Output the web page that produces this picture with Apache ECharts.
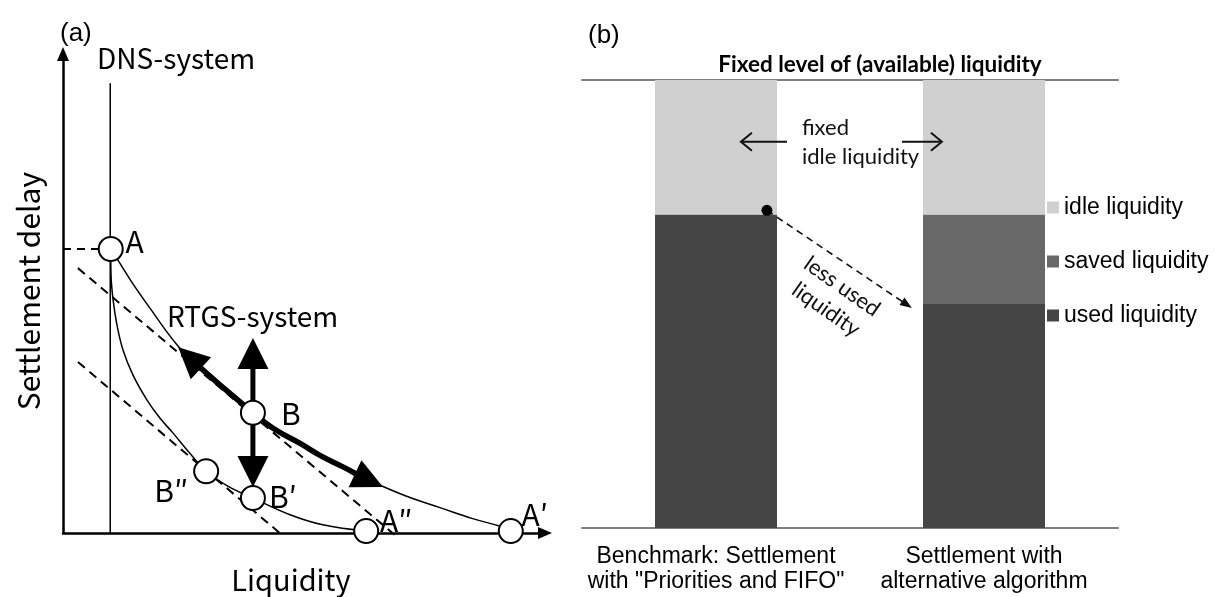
<!DOCTYPE html>
<html>
<head>
<meta charset="utf-8">
<script src="https://cdn.jsdelivr.net/npm/echarts/dist/echarts.min.js"></script>
<style>
  html, body { margin: 0; padding: 0; background: #fff; }
  #chart { width: 1215px; height: 597px; }
</style>
</head>
<body>
<div id="chart"></div>
<script>
// ---------- Panel (a): settlement delay versus liquidity ----------
const dnsLine = [[9.8, 0], [9.8, 93.9]];
const upperCurve = [[10.0, 59.3], [14.0, 52.8], [18.0, 47.0], [23.9, 39.0], [28.4, 34.7], [33.0, 30.5],
  [39.4, 25.1], [44.0, 21.6], [49.2, 18.7], [53.5, 16.1], [58.1, 13.8], [62.0, 11.7], [66.4, 9.7],
  [72.0, 7.4], [78.2, 5.3], [85.0, 3.0], [90.7, 1.4], [92.9, 0.5]];
const lowerCurve = [[9.9, 59.3], [9.96, 53.9], [10.4, 48.6], [11.2, 43.4], [12.45, 38.2], [14.5, 33.0],
  [17.4, 27.8], [20.1, 24.0], [22.8, 20.9], [26.1, 16.9], [29.7, 12.9], [34.2, 9.8], [39.4, 7.3],
  [47.1, 3.8], [53.9, 1.7], [62.9, 0.4]];
const delayLevelA = [[0, 59.3], [10.0, 59.3]];
const costLineUpper = [[3.1, 55.3], [69.3, -0.8]];
const costLineLower = [[3.1, 35.7], [45.2, -0.2]];
const pointNames = ['A', 'B', 'B′', 'B″', 'A″', 'A′'];
const pointX = [9.9, 39.4, 39.4, 29.7, 62.9, 92.9];
const pointY = [59.3, 25.1, 7.3, 12.9, 0.4, 0.4];
const arrowUp = [[39.4, 25.1], [39.4, 40.7]];
const arrowDown = [[39.4, 25.1], [39.4, 9.6]];
const arrowUpLeft = [[39.4, 25.1], [36.0, 28.0], [32.0, 31.4], [28.4, 34.6], [23.9, 38.8]];
const arrowDownRight = [[39.4, 25.1], [44.0, 21.6], [49.2, 18.7], [53.5, 16.1], [58.1, 13.8], [62.0, 11.7], [66.4, 9.6]];

// ---------- Panel (b): liquidity usage of two settlement algorithms ----------
const categories = ['Benchmark: Settlement\nwith "Priorities and FIFO"', 'Settlement with\nalternative algorithm'];
const usedLiquidity = [70, 50];
const savedLiquidity = [0, 20];
const idleLiquidity = [30, 30];
const usedLevelDot = [0.69, 70.9];
const lessUsedArrow = [[0.69, 70.9], [1.231, 49.1]];
const idleArrowLeft = [[0.765, 86.2], [0.593, 86.2]];
const idleArrowRight = [[1.194, 86.2], [1.343, 86.2]];

// ---------- styling ----------
const JP = '"Noto Sans CJK JP", "Noto Sans", sans-serif';
const ARIAL = '"Liberation Sans", Arial, sans-serif';
const CAL = 'Lato, "Open Sans", sans-serif';
const labelOffsets = { 'A': [24, -7], 'B': [38, 1], 'B′': [30, -1], 'B″': [-35, 19], 'A″': [30, -10], 'A′': [24, -16] };

// draws a polyline ending in an arrow head, positioned through the axes
function arrowSeries(paths, xi, yi, st) {
  return {
    type: 'custom', coordinateSystem: 'cartesian2d', xAxisIndex: xi, yAxisIndex: yi, z: st.z || 4,
    silent: true,
    data: paths.map(p => p[p.length - 1]),
    renderItem: function (params, api) {
      const pts = paths[params.dataIndex].map(p => api.coord(p));
      const tip = pts[pts.length - 1], prev = pts[pts.length - 2];
      let dx = tip[0] - prev[0], dy = tip[1] - prev[1];
      const len = Math.sqrt(dx * dx + dy * dy); dx /= len; dy /= len;
      const base = [tip[0] - dx * st.headLen, tip[1] - dy * st.headLen];
      const nx = -dy * st.headWidth / 2, ny = dx * st.headWidth / 2;
      const wing1 = [base[0] + nx, base[1] + ny], wing2 = [base[0] - nx, base[1] - ny];
      const shaft = st.open ? pts : pts.slice(0, -1).concat([[tip[0] - dx * st.headLen * 0.7, tip[1] - dy * st.headLen * 0.7]]);
      const children = [{
        type: 'polyline', shape: { points: shaft, smooth: st.smooth || 0 },
        style: { stroke: st.color, lineWidth: st.width, fill: null, lineDash: st.dash || null, lineJoin: 'round' }
      }];
      if (st.open) {
        children.push({ type: 'polyline', shape: { points: [wing1, tip, wing2] },
          style: { stroke: st.color, lineWidth: st.width, fill: null } });
      } else {
        children.push({ type: 'polygon', shape: { points: [tip, wing1, wing2] },
          style: { fill: st.color, stroke: null } });
      }
      return { type: 'group', children: children };
    }
  };
}

function thinLine(data, xi, yi, extra) {
  return Object.assign({
    type: 'line', xAxisIndex: xi, yAxisIndex: yi, data: data, showSymbol: false, symbol: 'none',
    clip: false, silent: true, z: 2,
    lineStyle: { color: '#000', width: 1.5 }
  }, extra || {});
}

const chart = echarts.init(document.getElementById('chart'), null, { renderer: 'canvas' });

const option = {
  animation: false,
  backgroundColor: '#fff',
  grid: [
    { left: 63, top: 54, width: 482, height: 479, outerBoundsMode: 'none', containLabel: false },
    { left: 582, top: 80, width: 536, height: 448, outerBoundsMode: 'none', containLabel: false }
  ],
  xAxis: [
    { type: 'value', gridIndex: 0, min: 0, max: 100,
      axisLine: { show: true, onZero: true, symbol: ['none', 'triangle'], symbolSize: [12, 14],
        lineStyle: { color: '#000', width: 2.5 } },
      axisTick: { show: false }, axisLabel: { show: false }, splitLine: { show: false } },
    { type: 'category', gridIndex: 1, data: categories, position: 'bottom',
      axisLine: { show: true, lineStyle: { color: '#7f7f7f', width: 2 } },
      axisTick: { show: false },
      axisLabel: { interval: 0, margin: 16, fontFamily: ARIAL, fontSize: 23, lineHeight: 25, color: '#000' },
      splitLine: { show: false } },
    { type: 'value', gridIndex: 1, min: 0, max: 2, position: 'top',
      axisLine: { show: true, onZero: false, lineStyle: { color: '#7f7f7f', width: 2 } },
      axisTick: { show: false }, axisLabel: { show: false }, splitLine: { show: false } }
  ],
  yAxis: [
    { type: 'value', gridIndex: 0, min: 0, max: 100,
      axisLine: { show: true, onZero: true, symbol: ['none', 'triangle'], symbolSize: [12, 14],
        lineStyle: { color: '#000', width: 2.5 } },
      axisTick: { show: false }, axisLabel: { show: false }, splitLine: { show: false } },
    { type: 'value', gridIndex: 1, min: 0, max: 100, show: false, splitLine: { show: false } }
  ],
  legend: {
    data: ['idle liquidity', 'saved liquidity', 'used liquidity'],
    orient: 'vertical', left: 1047, top: 196, padding: 0,
    itemWidth: 12, itemHeight: 12, itemGap: 31, icon: 'rect', selectedMode: false,
    textStyle: { fontFamily: ARIAL, fontSize: 23, color: '#000', padding: [0, 0, 0, 0] }
  },
  graphic: [
    { type: 'text', x: 60, y: 34, style: { text: '(a)', font: '26px ' + ARIAL, fill: '#000', textVerticalAlign: 'middle' } },
    { type: 'text', x: 588, y: 36, style: { text: '(b)', font: '26px ' + ARIAL, fill: '#000', textVerticalAlign: 'middle' } },
    { type: 'text', x: 97, y: 58, style: { text: 'DNS-system', font: '28px ' + JP, fill: '#000', textVerticalAlign: 'middle' } },
    { type: 'text', x: 167, y: 316, style: { text: 'RTGS-system', font: '28px ' + JP, fill: '#000', textVerticalAlign: 'middle' } },
    { type: 'text', x: 291, y: 580, style: { text: 'Liquidity', font: '29px ' + JP, fill: '#000', textAlign: 'center', textVerticalAlign: 'middle' } },
    { type: 'text', x: 29, y: 291, rotation: Math.PI / 2, style: { text: 'Settlement delay', font: '30px ' + JP, fill: '#000', textAlign: 'center', textVerticalAlign: 'middle' } },
    { type: 'text', x: 880, y: 65, style: { text: 'Fixed level of (available) liquidity', font: 'bold 22.5px ' + CAL, fill: '#000', textAlign: 'center', textVerticalAlign: 'middle' } },
    { type: 'text', x: 802, y: 128, style: { text: 'fixed', font: '22px ' + CAL, fill: '#111', textVerticalAlign: 'middle' } },
    { type: 'text', x: 802, y: 157, style: { text: 'idle liquidity', font: '22px ' + CAL, fill: '#111', textVerticalAlign: 'middle' } },
    { type: 'text', x: 834, y: 298, rotation: -35 * Math.PI / 180, style: { text: 'less used\nliquidity', font: '22px ' + CAL, fill: '#111', textAlign: 'center', textVerticalAlign: 'middle', lineHeight: 28 } }
  ],
  series: [
    // panel (a)
    thinLine(dnsLine, 0, 0),
    thinLine(upperCurve, 0, 0, { smooth: 0.4 }),
    thinLine(lowerCurve, 0, 0, { smooth: 0.4 }),
    thinLine(delayLevelA, 0, 0, { lineStyle: { color: '#000', width: 2, type: [8, 6] } }),
    thinLine(costLineUpper, 0, 0, { lineStyle: { color: '#000', width: 2, type: [9, 6] } }),
    thinLine(costLineLower, 0, 0, { lineStyle: { color: '#000', width: 2, type: [9, 6] } }),
    arrowSeries([arrowUp, arrowDown], 0, 0, { color: '#000', width: 5, headLen: 31, headWidth: 31 }),
    arrowSeries([arrowUpLeft, arrowDownRight], 0, 0, { color: '#000', width: 5.5, headLen: 31, headWidth: 30, smooth: 0.4 }),
    {
      type: 'scatter', xAxisIndex: 0, yAxisIndex: 0, z: 6, silent: true,
      symbol: 'circle', symbolSize: 24,
      itemStyle: { color: '#fff', borderColor: '#000', borderWidth: 2, opacity: 1 },
      data: pointNames.map((n, i) => ({
        name: n, value: [pointX[i], pointY[i]],
        label: { offset: labelOffsets[n] }
      })),
      label: { show: true, position: 'inside', formatter: '{b}', fontFamily: JP, fontSize: 30, color: '#000' }
    },
    // panel (b)
    { type: 'bar', name: 'used liquidity', xAxisIndex: 1, yAxisIndex: 1, stack: 'liq', barWidth: 122,
      itemStyle: { color: '#454545' }, data: usedLiquidity },
    { type: 'bar', name: 'saved liquidity', xAxisIndex: 1, yAxisIndex: 1, stack: 'liq', barWidth: 122,
      itemStyle: { color: '#686868' }, data: savedLiquidity },
    { type: 'bar', name: 'idle liquidity', xAxisIndex: 1, yAxisIndex: 1, stack: 'liq', barWidth: 122,
      itemStyle: { color: '#d0d0d0' }, data: idleLiquidity },
    arrowSeries([idleArrowLeft, idleArrowRight], 2, 1, { color: '#111', width: 2, headLen: 11, headWidth: 18, open: true, z: 5 }),
    arrowSeries([lessUsedArrow], 2, 1, { color: '#111', width: 1.6, headLen: 12, headWidth: 9, dash: [7, 5], z: 5 }),
    {
      type: 'scatter', xAxisIndex: 2, yAxisIndex: 1, z: 6, silent: true,
      symbol: 'circle', symbolSize: 11, itemStyle: { color: '#000', opacity: 1 },
      data: [usedLevelDot]
    }
  ]
};

chart.setOption(option);
</script>
</body>
</html>
